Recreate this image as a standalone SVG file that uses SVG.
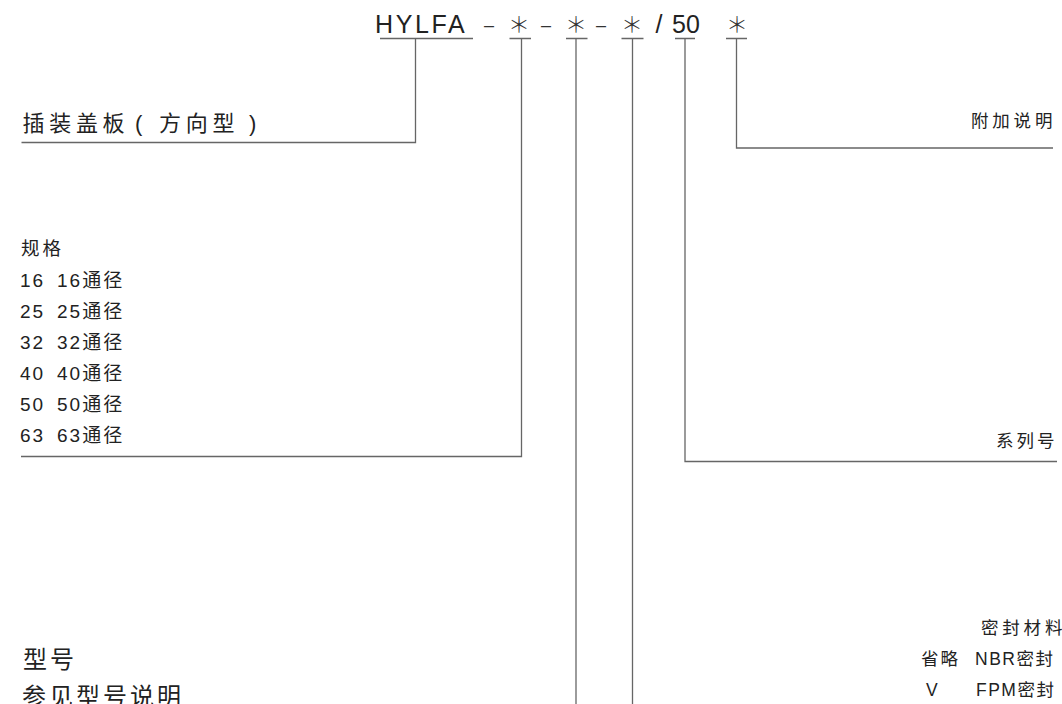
<svg xmlns="http://www.w3.org/2000/svg" width="1062" height="704" viewBox="0 0 1062 704">
<style>
.t{font-family:"Liberation Sans","Noto Sans CJK SC",sans-serif;fill:#222}
.title{font-size:25px}
.big{font-size:22px}
.mid{font-size:17.5px;letter-spacing:3.8px}
.row{font-size:19px;letter-spacing:2px}
.ast{font-family:"Noto Sans CJK SC",sans-serif;font-size:22px;font-weight:300;fill:#333}
.dash{font-family:"Liberation Sans",sans-serif;font-size:18px;fill:#333}
.ln{fill:none;stroke:#666;stroke-width:1.3}
</style>
<rect width="1062" height="704" fill="#fff"/>
<g id="code">
<text class="t title" x="375" y="33" style="letter-spacing:2.6px">HYLFA</text>
<text class="dash" x="489" y="31" text-anchor="middle">–</text>
<text class="ast" x="519" y="32" text-anchor="middle">＊</text>
<text class="dash" x="546" y="31" text-anchor="middle">–</text>
<text class="ast" x="576" y="32" text-anchor="middle">＊</text>
<text class="dash" x="601" y="31" text-anchor="middle">–</text>
<text class="ast" x="632" y="32" text-anchor="middle">＊</text>
<text class="t title" x="659" y="33" text-anchor="middle">/</text>
<text class="t title" x="686" y="33" text-anchor="middle">50</text>
<text class="ast" x="737" y="32" text-anchor="middle">＊</text>
</g>
<g id="connectors">
<path class="ln" d="M380 38.5H473M509.5 38.5H531M566 38.5H587.5M621.5 38.5H643.5M675 38.5H695M726 38.5H747"/>
<path class="ln" d="M415.5 38.5V142.5H21.5"/>
<path class="ln" d="M521.5 38.5V456.5H21"/>
<path class="ln" d="M576 38.5V704"/>
<path class="ln" d="M632.5 38.5V704"/>
<path class="ln" d="M685 38.5V461.5H1057"/>
<path class="ln" d="M736.5 38.5V148H1053"/>
</g>
<g id="node-type">
<text class="t big" x="22.5 49.2 75.9 102.6 135 159 185.7 212.4 249" y="131">插装盖板(方向型)</text>
</g>
<g id="node-size">
<text class="t" x="21" y="255" font-size="18.5" style="letter-spacing:3px">规格</text>
<text class="t row" x="20" y="287">16</text><text class="t row" x="57" y="287">16通径</text>
<text class="t row" x="20" y="318">25</text><text class="t row" x="57" y="318">25通径</text>
<text class="t row" x="20" y="349">32</text><text class="t row" x="57" y="349">32通径</text>
<text class="t row" x="20" y="380">40</text><text class="t row" x="57" y="380">40通径</text>
<text class="t row" x="20" y="411">50</text><text class="t row" x="57" y="411">50通径</text>
<text class="t row" x="20" y="442">63</text><text class="t row" x="57" y="442">63通径</text>
</g>
<g id="node-model">
<text class="t" x="23" y="668" font-size="24" style="letter-spacing:3px">型号</text>
<text class="t" x="22" y="705" font-size="24" style="letter-spacing:3px">参见型号说明</text>
</g>
<g id="node-extra">
<text class="t mid" x="971" y="127">附加说明</text>
</g>
<g id="node-series">
<text class="t mid" x="996" y="447" style="letter-spacing:3px">系列号</text>
</g>
<g id="node-seal">
<text class="t mid" x="981" y="634">密封材料</text>
<text class="t mid" x="921" y="665" style="letter-spacing:2px">省略</text>
<text class="t mid" x="975" y="665" style="letter-spacing:1.5px">NBR密封</text>
<text class="t mid" x="926" y="696">V</text>
<text class="t mid" x="976" y="696" style="letter-spacing:1.5px">FPM密封</text>
</g>
</svg>
